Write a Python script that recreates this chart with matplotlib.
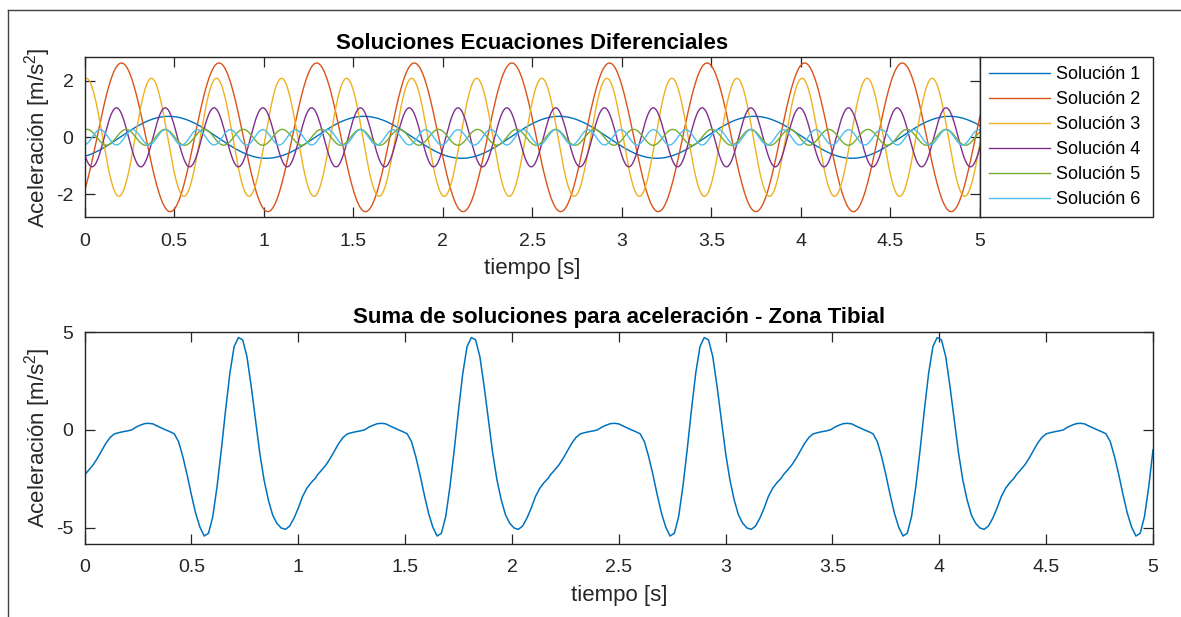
import numpy as np
import matplotlib
matplotlib.use("Agg")
from matplotlib import pyplot as plt
from matplotlib.lines import Line2D

plt.rcParams['font.family'] = ['Liberation Sans', 'DejaVu Sans']
plt.rcParams['mathtext.fontset'] = 'custom'
plt.rcParams['mathtext.rm'] = 'Liberation Sans'
plt.rcParams['mathtext.it'] = 'Liberation Sans:italic'
plt.rcParams['mathtext.bf'] = 'Liberation Sans:bold'
plt.rcParams['axes.unicode_minus'] = False

# soluciones: amplitud [m/s2], periodo [s] e instante de un pico [s]
nombres = ['Solución 1', 'Solución 2', 'Solución 3', 'Solución 4', 'Solución 5', 'Solución 6']
amplitudes = [0.74, 2.62, 2.08, 1.04, 0.28, 0.27]
periodos = [1.09, 0.545, 0.3633, 0.2725, 0.218, 0.1817]
picos = [0.47, 0.206, 0.01, 0.178, 0.014, 0.087]
colores = ['#0072BD', '#D95319', '#EDB120', '#7E2F8E', '#77AC30', '#4DBEEE']

periodo_suma = 1.09
a_suma = [-2.30, -2.05, -1.79, -1.45, -1.06, -0.68, -0.38, -0.20, -0.14, -0.09,
          -0.05, 0.00, 0.14, 0.24, 0.32, 0.34, 0.31, 0.20, 0.10, 0.00,
          -0.09, -0.20, -0.60, -1.37, -2.30, -3.33, -4.27, -4.98, -5.43, -5.29,
          -4.44, -2.90, -1.02, 1.02, 2.90, 4.27, 4.73, 4.61, 3.75, 2.22,
          0.51, -1.19, -2.56, -3.58, -4.35, -4.78, -5.02, -5.09, -4.92, -4.52,
          -4.01, -3.41, -2.99, -2.70, -2.47]
t_suma = [round(0.02 * i, 2) for i in range(len(a_suma))]

# ticks
x_ticks = [0, 0.5, 1, 1.5, 2, 2.5, 3, 3.5, 4, 4.5, 5]
x_labels = ['0', '0.5', '1', '1.5', '2', '2.5', '3', '3.5', '4', '4.5', '5']
y_ticks_sol = [-2, 0, 2]
y_ticks_suma = [-5, 0, 5]

gris = '#262626'

fig = plt.figure(figsize=(11.81, 6.17), dpi=100)
ax1 = fig.add_axes([0.0716, 0.6478, 0.7582, 0.2593])
ax2 = fig.add_axes([0.0716, 0.1183, 0.9047, 0.3441])

# solucion de cada ecuacion
t = np.linspace(0, 5, 3001)
for nombre, A, T, tp, c in zip(nombres, amplitudes, periodos, picos, colores):
    ax1.plot(t, A * np.cos(2 * np.pi * (t - tp) / T), color=c, lw=1.0, label=nombre)

# la suma se repite con el periodo fundamental
t_tot = []
a_tot = []
k = 0
while k * periodo_suma <= 5:
    for ti, ai in zip(t_suma, a_suma):
        if ti + k * periodo_suma <= 5.0001:
            t_tot.append(ti + k * periodo_suma)
            a_tot.append(ai)
    k += 1
ax2.plot(t_tot, a_tot, color='#0072BD', lw=1.1)

ax1.set_ylim(-2.82, 2.82)
ax1.set_yticks(y_ticks_sol)
ax2.set_ylim(-5.84, 5.03)
ax2.set_yticks(y_ticks_suma)

ax1.set_title('Soluciones Ecuaciones Diferenciales', fontsize=16, fontweight='bold', pad=6)
ax2.set_title('Suma de soluciones para aceleración - Zona Tibial', fontsize=16,
              fontweight='bold', pad=6)

for ax in (ax1, ax2):
    ax.set_xlim(0, 5)
    ax.set_xticks(x_ticks)
    ax.set_xticklabels(x_labels)
    ax.tick_params(direction='in', length=7, width=0.9, top=True, right=True,
                   labelsize=14, color=gris, labelcolor=gris)
    ax.tick_params(axis='x', pad=11)
    ax.tick_params(axis='y', pad=8)
    for s in ax.spines.values():
        s.set_color(gris)
        s.set_linewidth(1.0)
    ax.set_xlabel('tiempo [s]', fontsize=16, color=gris, labelpad=6)
    ax.set_ylabel(r'Aceleración [m/s$^2$]', fontsize=16, color=gris, labelpad=2)

leg = ax1.legend(loc='upper left', bbox_to_anchor=(0.8298, 0.6478, 0.1465, 0.2593),
                 bbox_transform=fig.transFigure, mode='expand', borderaxespad=0,
                 fontsize=13, labelspacing=0.44, borderpad=0.5, handlelength=3.4,
                 handletextpad=0.3, fancybox=False, framealpha=1)
leg.get_frame().set_edgecolor(gris)
leg.get_frame().set_linewidth(1.0)

# marco de la figura
fig.add_artist(Line2D([8 / 1181, 8 / 1181], [0, 1 - 10 / 617], color='#404040', lw=1))
fig.add_artist(Line2D([8 / 1181, 1], [1 - 10 / 617, 1 - 10 / 617], color='#404040', lw=1))

plt.savefig('out.png', dpi=100)
plt.close(fig)
